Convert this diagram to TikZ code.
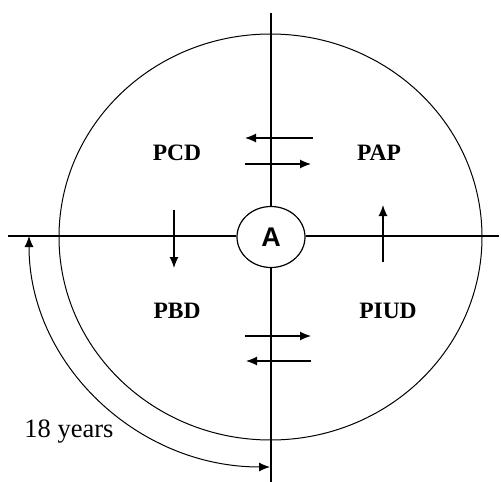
\documentclass[tikz,border=0pt]{standalone}
\usepackage{fontspec}
\setmainfont{Liberation Serif}
\newfontfamily\arialfont{Liberation Sans}
\usetikzlibrary{arrows.meta,shapes.geometric}

\begin{document}
\begin{tikzpicture}[x=1pt, y=-1pt, line width=1.2pt,
  >={Latex[length=11pt,width=9pt]},
  phase/.style={font=\bfseries\fontsize{23.5}{26}\selectfont}]
\useasboundingbox (0,0) rectangle (501,482);
\draw[line width=1pt] (270.5,237) ellipse (211.5 and 203);
\node[draw, ellipse, minimum width=68pt, minimum height=61pt, inner sep=0pt,
  font=\arialfont\bfseries\fontsize{27}{29}\selectfont] (A) at (271,237) {A};
\coordinate (top) at (271,13);
\coordinate (bot) at (271,482);
\coordinate (lft) at (8,236);
\coordinate (rgt) at (499,236);
\draw (A.north) -- (top);
\draw (A.south) -- (bot);
\draw (A.west |- lft) -- (lft);
\draw (A.east |- rgt) -- (rgt);
\node[phase] (pcd) at (177,153) {PCD};
\node[phase] (pap) at (379,153) {PAP};
\node[phase] (pbd) at (177,311) {PBD};
\node[phase] (piud) at (388,311) {PIUD};
% exchange arrows
\foreach \i/\ya/\xa/\yb/\xb in {1/138/313/138/245, 2/164/245/164/311,
    3/336/245/336/311, 4/361/311/361/246, 5/210/174/268/174, 6/262/383/205/383} {
  \coordinate (s\i) at (\xa,\ya);
  \coordinate (e\i) at (\xb,\yb);
  \draw[->] (s\i) -- (e\i);
}
% age span
\coordinate (a1) at (29,236);
\draw[<->, line width=1pt] (a1) arc[start angle=180, end angle=90, x radius=241, y radius=231];
\node[anchor=base, font=\fontsize{26.5}{29}\selectfont] (age) at (69,437) {18 years};
\end{tikzpicture}
\end{document}
